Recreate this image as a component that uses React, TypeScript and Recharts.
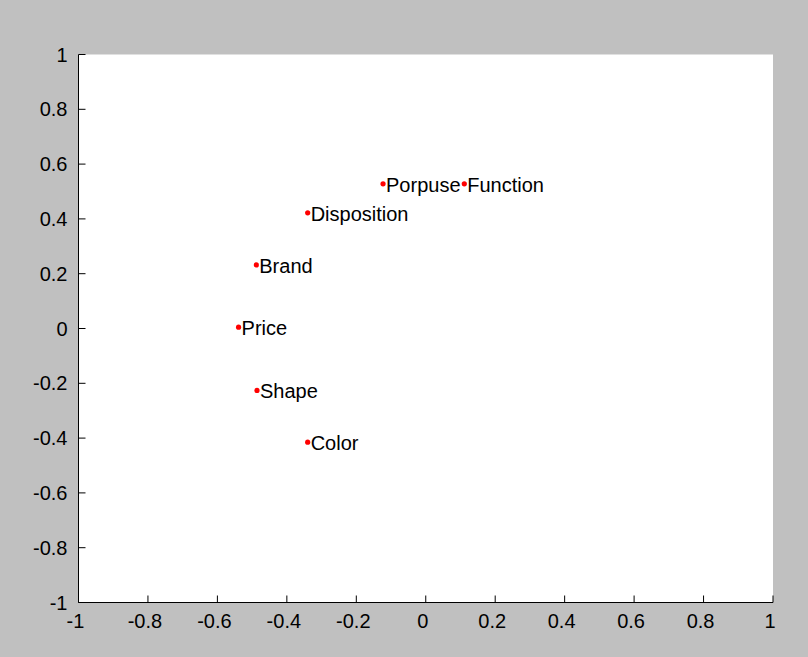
import { ScatterChart, Scatter, XAxis, YAxis, CartesianGrid } from 'recharts';

const labels = ['Porpuse', 'Function', 'Disposition', 'Brand', 'Price', 'Shape', 'Color'];
const xValues = [-0.123, 0.111, -0.34, -0.488, -0.539, -0.486, -0.34];
const yValues = [0.528, 0.528, 0.422, 0.232, 0.005, -0.226, -0.415];
const axisTicks = [-1, -0.8, -0.6, -0.4, -0.2, 0, 0.2, 0.4, 0.6, 0.8, 1];

const points = labels.map((name, i) => ({ name, x: xValues[i], y: yValues[i] }));

const FONT = '"Liberation Sans", Arial, Helvetica, sans-serif';
const TICK_LEN = 7;

function XTick(props: any) {
  const { x, y, payload } = props;
  return (
    <g>
      <line x1={x} y1={y} x2={x} y2={y - TICK_LEN} stroke="#000" />
      <text x={x - 3} y={y + 18} textAnchor="middle" dominantBaseline="central" fontSize={20} fontFamily={FONT} fill="#000">
        {String(payload.value)}
      </text>
    </g>
  );
}

function YTick(props: any) {
  const { x, y, payload } = props;
  return (
    <g>
      <line x1={x} y1={y} x2={x + TICK_LEN} y2={y} stroke="#000" />
      <text x={x - 11} y={y} textAnchor="end" dominantBaseline="central" fontSize={20} fontFamily={FONT} fill="#000">
        {String(payload.value)}
      </text>
    </g>
  );
}

// red marker with its name written just to the right
function LabeledDot(props: any) {
  const { cx, cy, payload } = props;
  return (
    <g>
      <circle cx={cx} cy={cy} r={2.6} fill="#ff0000" />
      <text x={cx + 3} y={cy + 1} dominantBaseline="central" fontSize={20} fontFamily={FONT} fill="#000">
        {payload.name}
      </text>
    </g>
  );
}

export default function App() {
  return (
    <div style={{ position: 'absolute', left: 0, top: 0, width: 808, height: 657, background: '#c0c0c0' }}>
      <ScatterChart width={808} height={657} margin={{ top: 54.5, right: 35, bottom: 0, left: 0 }}>
        <CartesianGrid horizontal={false} vertical={false} fill="#ffffff" fillOpacity={1} stroke="none" />
        <XAxis
          type="number"
          dataKey="x"
          domain={[-1, 1]}
          ticks={axisTicks}
          interval={0}
          height={54.5}
          tickSize={0}
          tickMargin={0}
          tickLine={false}
          axisLine={{ stroke: '#000' }}
          tick={<XTick />}
          allowDataOverflow
        />
        <YAxis
          type="number"
          dataKey="y"
          domain={[-1, 1]}
          ticks={axisTicks}
          interval={0}
          width={78.5}
          tickSize={0}
          tickMargin={0}
          tickLine={false}
          axisLine={{ stroke: '#000' }}
          tick={<YTick />}
          allowDataOverflow
        />
        <Scatter data={points} shape={<LabeledDot />} isAnimationActive={false} />
      </ScatterChart>
    </div>
  );
}
